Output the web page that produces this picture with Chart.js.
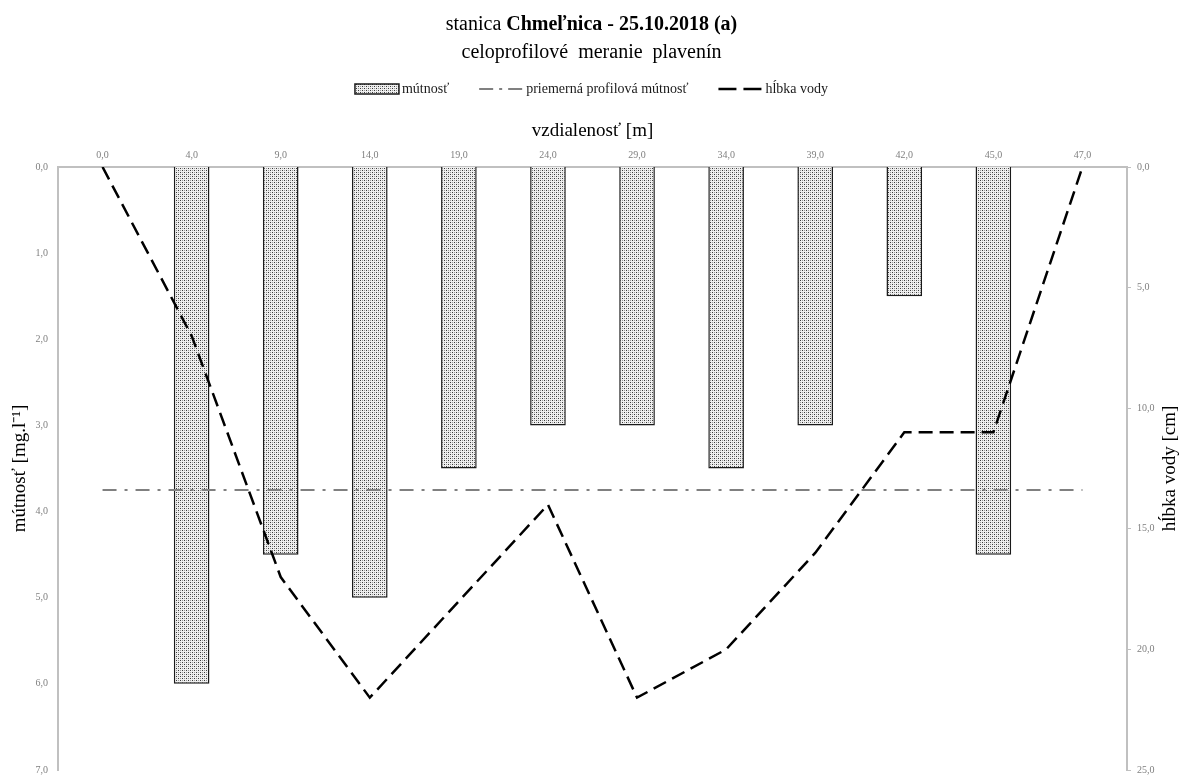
<!DOCTYPE html>
<html>
<head>
<meta charset="utf-8">
<title>stanica Chmeľnica - 25.10.2018 (a)</title>
<script src="https://cdn.jsdelivr.net/npm/chart.js@4/dist/chart.umd.min.js"></script>
<style>
  html, body { margin: 0; padding: 0; background: #ffffff; }
  #wrap { width: 1183px; height: 776px; position: relative; }
</style>
</head>
<body>
<div id="wrap"><canvas id="chart" width="1183" height="776"></canvas></div>
<script>
// Measuring verticals across the profile (distance from the bank, m)
const distances = ['0,0', '4,0', '9,0', '14,0', '19,0', '24,0', '29,0', '34,0', '39,0', '42,0', '45,0', '47,0'];
// Turbidity per vertical [mg.l-1] (no sample at the banks)
const turbidity = [null, 6.0, 4.5, 5.0, 3.5, 3.0, 3.0, 3.5, 3.0, 1.5, 4.5, null];
// Mean profile turbidity [mg.l-1]
const meanTurbidity = [3.75, 3.75, 3.75, 3.75, 3.75, 3.75, 3.75, 3.75, 3.75, 3.75, 3.75, 3.75];
// Water depth at each vertical [cm]
const waterDepth = [0, 7, 17, 22, 18, 14, 22, 20, 16, 11, 11, 0];

// Series names
const seriesNames = ['mútnosť', 'priemerná profilová mútnosť', 'hĺbka vody'];
const titleNormal = 'stanica ';
const titleBold = 'Chmeľnica - 25.10.2018 (a)';
const subtitleText = 'celoprofilové  meranie  plavenín';
const xTitle = 'vzdialenosť [m]';
const yTitle = 'mútnosť [mg.l⁻¹]';
const y2Title = 'hĺbka vody [cm]';

const SERIF = "'Liberation Serif', 'Times New Roman', serif";
const AXIS_GREY = '#c0c0c0';
const TICK_GREY = '#7f7f7f';

// Stippled fill for the turbidity bars
function makeStipple() {
  const c = document.createElement('canvas');
  c.width = 4; c.height = 4;
  const g = c.getContext('2d');
  g.fillStyle = '#efefef';
  g.fillRect(0, 0, 4, 4);
  g.fillStyle = '#3a3a3a';
  g.fillRect(0, 0, 1, 1);
  g.fillRect(2, 2, 1, 1);
  g.fillStyle = '#9a9a9a';
  g.fillRect(2, 0, 1, 1);
  g.fillRect(0, 2, 1, 1);
  return g.createPattern(c, 'repeat');
}
const stipple = makeStipple();

const fmt = v => Number(v).toFixed(1).replace('.', ',');

// Title, legend and the right-hand axis title
const decorations = {
  id: 'decorations',
  afterDraw(chart) {
    const ctx = chart.ctx;
    const cx = chart.width / 2;
    ctx.save();
    ctx.fillStyle = '#000';
    ctx.textBaseline = 'middle';

    // two-line title, first line partly bold
    ctx.font = '20px ' + SERIF;
    const wN = ctx.measureText(titleNormal).width;
    ctx.font = 'bold 20px ' + SERIF;
    const wB = ctx.measureText(titleBold).width;
    const x0 = cx - (wN + wB) / 2;
    ctx.textAlign = 'left';
    ctx.font = '20px ' + SERIF;
    ctx.fillText(titleNormal, x0, 25);
    ctx.font = 'bold 20px ' + SERIF;
    ctx.fillText(titleBold, x0 + wN, 25);
    ctx.font = '20px ' + SERIF;
    ctx.textAlign = 'center';
    ctx.fillText(subtitleText, cx, 53);

    // legend
    const ds = chart.data.datasets;
    const symW = 44, symGap = 3, itemGap = 30, ly = 89;
    ctx.font = '14px ' + SERIF;
    const widths = ds.map(d => ctx.measureText(d.label).width);
    const total = widths.reduce((a, w) => a + symW + symGap + w, 0) + itemGap * (ds.length - 1);
    let lx = cx - total / 2;
    ds.forEach((d, i) => {
      if (d.type === 'bar') {
        ctx.fillStyle = d.backgroundColor;
        ctx.fillRect(lx, ly - 5, symW, 10);
        ctx.strokeStyle = d.borderColor;
        ctx.lineWidth = 1.5;
        ctx.setLineDash([]);
        ctx.strokeRect(lx, ly - 5, symW, 10);
      } else {
        ctx.strokeStyle = d.borderColor;
        ctx.lineWidth = d.borderWidth;
        ctx.setLineDash(d.legendDash || d.borderDash || []);
        ctx.beginPath();
        ctx.moveTo(lx, ly);
        ctx.lineTo(lx + symW, ly);
        ctx.stroke();
        ctx.setLineDash([]);
      }
      ctx.fillStyle = '#1a1a1a';
      ctx.textAlign = 'left';
      ctx.fillText(d.label, lx + symW + symGap, ly);
      lx += symW + symGap + widths[i] + itemGap;
    });

    // right axis title, reading bottom to top like the left one
    const y2 = chart.scales.y2;
    ctx.translate(1170, (y2.top + y2.bottom) / 2);
    ctx.rotate(-Math.PI / 2);
    ctx.font = '19px ' + SERIF;
    ctx.fillStyle = '#000';
    ctx.textAlign = 'center';
    ctx.fillText(y2Title, 0, 0);
    ctx.restore();
  }
};

new Chart(document.getElementById('chart'), {
  data: {
    labels: distances,
    datasets: [
      {
        type: 'bar',
        label: seriesNames[0],
        data: turbidity,
        yAxisID: 'y',
        backgroundColor: stipple,
        borderColor: '#1a1a1a',
        borderWidth: 1.5,
        barPercentage: 0.4,
        categoryPercentage: 1.0,
        order: 3
      },
      {
        type: 'line',
        label: seriesNames[1],
        data: meanTurbidity,
        yAxisID: 'y',
        borderColor: '#808080',
        borderWidth: 2,
        borderDash: [14, 8, 3, 8],
        legendDash: [14, 6, 3, 6],
        pointRadius: 0,
        fill: false,
        order: 2
      },
      {
        type: 'line',
        label: seriesNames[2],
        data: waterDepth,
        yAxisID: 'y2',
        borderColor: '#000000',
        borderWidth: 2.5,
        borderDash: [14, 7],
        legendDash: [18, 7],
        pointRadius: 0,
        tension: 0,
        fill: false,
        order: 1
      }
    ]
  },
  options: {
    responsive: false,
    animation: false,
    events: [],
    layout: { padding: { top: 100, left: 0, right: 0, bottom: 6 } },
    plugins: {
      legend: { display: false },
      title: { display: false },
      tooltip: { enabled: false }
    },
    scales: {
      x: {
        type: 'category',
        position: 'top',
        offset: true,
        grid: { display: false, drawTicks: false },
        border: { display: true, color: AXIS_GREY, width: 2 },
        ticks: { color: TICK_GREY, font: { family: SERIF, size: 10 }, padding: 6, maxRotation: 0, autoSkip: false },
        title: { display: true, text: xTitle, color: '#000', font: { family: SERIF, size: 19 }, padding: { top: 20, bottom: 0 } },
        afterFit(s) { s.height = 67; }
      },
      y: {
        position: 'left',
        reverse: true,
        min: 0,
        max: 7,
        grid: { display: false, drawTicks: false },
        border: { display: true, color: AXIS_GREY, width: 2 },
        ticks: { stepSize: 1, callback: v => fmt(v), color: TICK_GREY, font: { family: SERIF, size: 10 }, padding: 10 },
        title: { display: true, text: yTitle, color: '#000', font: { family: SERIF, size: 19 }, padding: { top: 9, bottom: 0 } },
        afterFit(s) { s.width = 58; s.paddingTop = 0; s.paddingBottom = 0; }
      },
      y2: {
        position: 'right',
        reverse: true,
        min: 0,
        max: 25,
        grid: { display: true, drawOnChartArea: false, drawTicks: true, tickLength: 4, color: AXIS_GREY },
        border: { display: true, color: AXIS_GREY, width: 2 },
        ticks: { stepSize: 5, callback: v => fmt(v), color: TICK_GREY, font: { family: SERIF, size: 10 }, padding: 6 },
        afterFit(s) { s.width = 56; s.paddingTop = 0; s.paddingBottom = 0; }
      }
    }
  },
  plugins: [decorations]
});
</script>
</body>
</html>
